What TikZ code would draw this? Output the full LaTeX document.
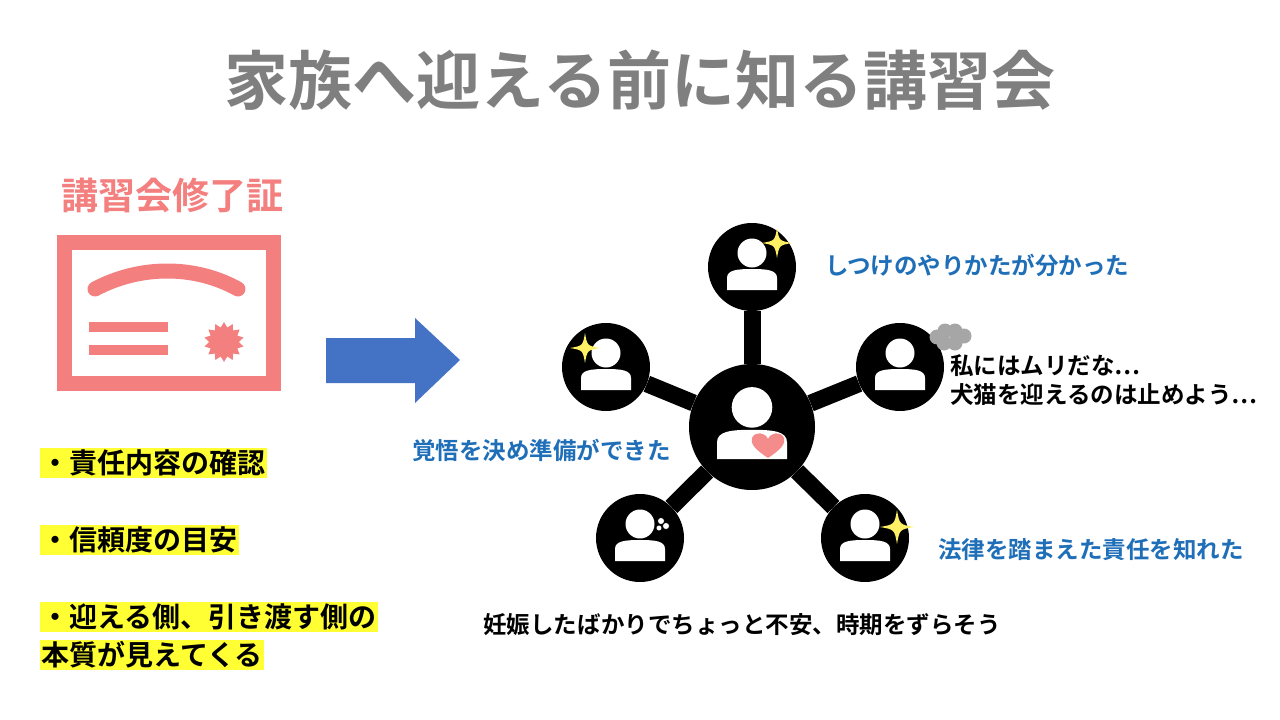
\documentclass[tikz,border=0pt]{standalone}
\usepackage{fontspec}
\setmainfont{Noto Sans CJK JP}[BoldFont={Noto Sans CJK JP Bold}]
\usetikzlibrary{shapes.geometric,arrows.meta}
\definecolor{ttl}{HTML}{7F7F7F}
\definecolor{pinkc}{HTML}{F47F7F}
\definecolor{bluea}{HTML}{4472C4}
\definecolor{bluet}{HTML}{1F6FB8}
\definecolor{hl}{HTML}{FFFF33}
\tikzset{
 txt/.style={anchor=west,inner sep=0pt,font=\bfseries\fontsize{23.5}{27}\selectfont},
 blt/.style={anchor=west,inner sep=1.5pt,fill=hl,font=\bfseries\fontsize{28}{31}\selectfont},
 person/.style={circle,fill=black,minimum size=88pt,inner sep=0pt},
 bigperson/.style={circle,fill=black,minimum size=126pt,inner sep=0pt},
 link/.style={line width=17pt}
}
\newcommand{\icon}[3]{% x y scale
 \fill[white] (#1,#2-14*#3) circle (14.5*#3);
 \fill[white] (#1-25*#3,#2+23*#3) -- (#1-25*#3,#2+11*#3) .. controls (#1-25*#3,#2+3*#3) and (#1-15*#3,#2+2*#3) .. (#1,#2+2*#3) .. controls (#1+15*#3,#2+2*#3) and (#1+25*#3,#2+3*#3) .. (#1+25*#3,#2+11*#3) -- (#1+25*#3,#2+23*#3) -- cycle;}
\newcommand{\sparkle}[3]{%
 \fill[yellow!90!orange!60] (#1,#2-#3) .. controls (#1+0.15*#3,#2-0.15*#3) .. (#1+#3,#2) .. controls (#1+0.15*#3,#2+0.15*#3) .. (#1,#2+#3) .. controls (#1-0.15*#3,#2+0.15*#3) .. (#1-#3,#2) .. controls (#1-0.15*#3,#2-0.15*#3) .. cycle;}
\begin{document}
\begin{tikzpicture}[x=1pt,y=-1pt]
\useasboundingbox[fill=white] (0,0) rectangle (1280,720);
\node[font=\bfseries\fontsize{64}{68}\selectfont,text=ttl] (title) at (640,80) {家族へ迎える前に知る講習会};
% certificate
\node[font=\bfseries\fontsize{37}{40}\selectfont,text=pinkc] (ct) at (172,195) {講習会修了証};
\draw[pinkc,line width=15pt] (64,242) rectangle (273,383);
\draw[pinkc,line width=15pt,line cap=round] (95,289) .. controls (140,265) and (195,265) .. (238,289);
\draw[pinkc,line width=10pt] (89,327) -- (168,327) (89,350) -- (168,350);
\node[star,star points=14,star point ratio=1.35,fill=pinkc,minimum size=40pt,inner sep=0pt] (seal) at (224,342) {};
% arrow
\fill[bluea] (326,338) -- (415,338) -- (415,318) -- (460,360) -- (415,403) -- (415,383) -- (326,383) -- cycle;
% bullets
\node[blt] (b1) at (40,463) {・責任内容の確認};
\node[blt] (b2) at (40,540) {・信頼度の目安};
\node[blt] (b3) at (40,617) {・迎える側、引き渡す側の};
\node[blt] (b4) at (40,655) {本質が見えてくる};
% network
\node[bigperson] (c) at (752,427) {};
\node[person] (n1) at (752,267) {};
\node[person] (n2) at (606,367) {};
\node[person] (n3) at (900,367) {};
\node[person] (n4) at (640,538) {};
\node[person] (n5) at (865,538) {};
\foreach \n in {n1,n2,n3,n4,n5} \draw[link] (c) -- (\n);
\icon{752}{267}{1}
\icon{606}{367}{1}
\icon{900}{367}{1}
\icon{640}{538}{1}
\icon{865}{538}{1}
\icon{752}{427}{1.4}
\sparkle{777}{243}{15}
\sparkle{585}{348}{15}
\sparkle{897}{527}{17}
% heart
\fill[pinkc!90] (768,458) .. controls (756,450) and (750,444) .. (752,438) .. controls (755,431) and (765,432) .. (768,439) .. controls (771,432) and (781,431) .. (784,438) .. controls (786,444) and (780,450) .. (768,458) -- cycle;
% sweat
\draw[black,fill=white,line width=0.7pt] (661,521) circle (3.5) (666,526) circle (3.5) (659,528) circle (3);
% cloud
\fill[gray!70] (937,337) circle (7.5) (945,331) circle (7.5) (955,331) circle (7.5) (964,336) circle (7.5) (955,343) circle (7.5) (944,343) circle (7.5);
% texts
\node[txt,text=bluet] (t1) at (825,265) {しつけのやりかたが分かった};
\node[txt,text=bluet] (t2) at (412,450) {覚悟を決め準備ができた};
\node[txt,text=bluet] (t3) at (938,550) {法律を踏まえた責任を知れた};
\node[txt] (t4) at (950,366) {私にはムリだな…};
\node[txt] (t5) at (950,395) {犬猫を迎えるのは止めよう…};
\node[txt] (t6) at (483,625) {妊娠したばかりでちょっと不安、時期をずらそう};
\end{tikzpicture}
\end{document}
